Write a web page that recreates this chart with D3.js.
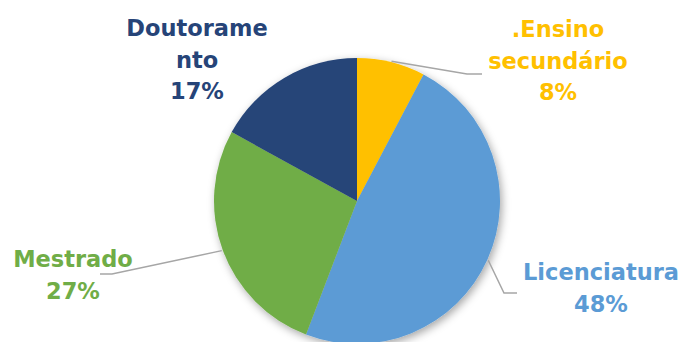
<!DOCTYPE html>
<html>
<head>
<meta charset="utf-8">
<script src="https://cdn.jsdelivr.net/npm/d3@7"></script>
<style>
  html, body { margin: 0; padding: 0; background: #fff; }
  svg { display: block; }
  .label { font-family: 'DejaVu Sans', sans-serif; font-weight: 700; font-size: 22.5px; }
</style>
</head>
<body>
<script>
// chart data
const categories = ['.Ensino secundário', 'Licenciatura', 'Mestrado', 'Doutoramento']
const values = [7.7, 48.1, 27.2, 17.0]
const labelLines = [['.Ensino', 'secundário'], ['Licenciatura'], ['Mestrado'], ['Doutorame', 'nto']]
const colors = ['#FFC000', '#5B9BD5', '#70AD47', '#264478']

const width = 682
const height = 342
const cx = 357
const cy = 201
const radius = 143

// label placement (center x, first baseline y) and leader elbows
const labelPos = [[558, 37], [601, 280], [73, 267], [197, 36]]
const elbows = [[[467, 74], [482, 74]], [[504, 293], [517, 293]], [[112, 274], [100, 274]], null]
const lineStep = 31.5

const svg = d3.select('body').append('svg')
  .attr('width', width)
  .attr('height', height)

const defs = svg.append('defs')
defs.append('filter')
  .attr('id', 'shadow')
  .attr('x', '-20%').attr('y', '-20%')
  .attr('width', '140%').attr('height', '140%')
  .append('feDropShadow')
  .attr('dx', 2).attr('dy', 3)
  .attr('stdDeviation', 4)
  .attr('flood-color', '#000')
  .attr('flood-opacity', 0.35)

const total = d3.sum(values)
const pie = d3.pie().sort(null).value((d) => d)
const arcs = pie(values)
const arc = d3.arc().innerRadius(0).outerRadius(radius)

const g = svg.append('g').attr('transform', `translate(${cx},${cy})`)

g.append('g')
  .attr('filter', 'url(#shadow)')
  .selectAll('path')
  .data(arcs)
  .enter()
  .append('path')
  .attr('d', arc)
  .attr('fill', (d, i) => colors[i])

// leader lines
arcs.forEach((d, i) => {
  if (!elbows[i]) return
  const mid = (d.startAngle + d.endAngle) / 2
  const start = [cx + Math.sin(mid) * (radius + 1), cy - Math.cos(mid) * (radius + 1)]
  const pts = [start].concat(elbows[i])
  svg.append('path')
    .attr('d', d3.line()(pts))
    .attr('fill', 'none')
    .attr('stroke', '#A6A6A6')
    .attr('stroke-width', 1.5)
})

// labels
arcs.forEach((d, i) => {
  const lines = labelLines[i].concat([Math.round((values[i] / total) * 100) + '%'])
  const t = svg.append('text')
    .attr('class', 'label')
    .attr('fill', colors[i])
    .attr('text-anchor', 'middle')
  lines.forEach((line, j) => {
    t.append('tspan')
      .attr('x', labelPos[i][0])
      .attr('y', labelPos[i][1] + j * lineStep)
      .text(line)
  })
})
</script>
</body>
</html>
